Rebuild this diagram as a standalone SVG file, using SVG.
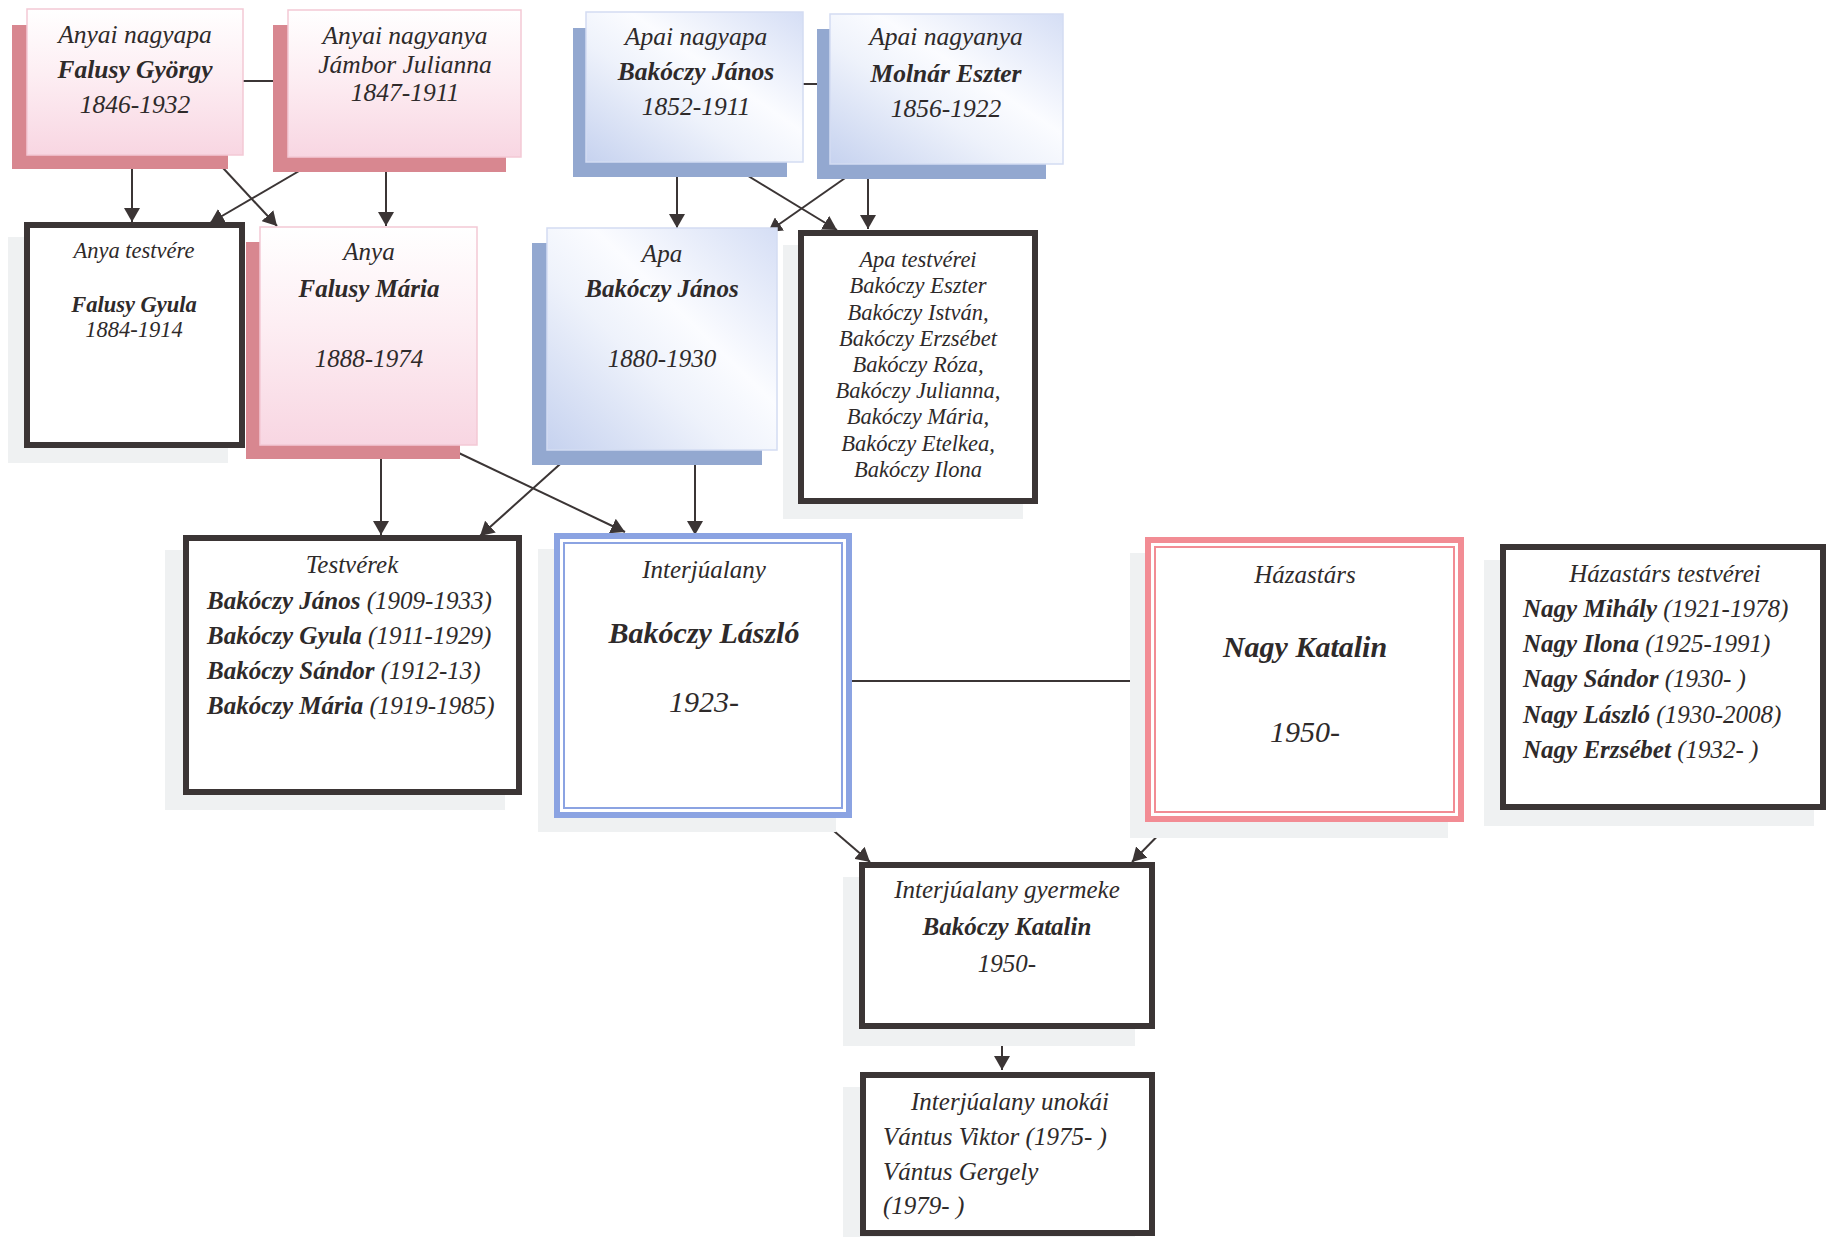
<svg xmlns="http://www.w3.org/2000/svg" width="1827" height="1237" viewBox="0 0 1827 1237">
<style>
text{font-family:"Liberation Serif","Times New Roman",serif;font-style:italic;fill:#2e2a2a}
.c{text-anchor:middle}
.b{font-weight:bold}
.f25{font-size:25.5px}
.f22{font-size:22.5px}
.f24{font-size:25px}
.f30{font-size:30px}
.pshadow{fill:#d88790}
.bshadow{fill:#93a8d0}
.gshadow{fill:#eff1f2}
.pbox{fill:url(#pg);stroke:#f3c9d5;stroke-width:1.5}
.bbox{fill:url(#bg);stroke:#d3dcf2;stroke-width:1.5}
.dbox{fill:#fff;stroke:#3b3535;stroke-width:6}
.con{stroke:#3b3535;stroke-width:2;fill:none}
.arr{marker-end:url(#ah)}
</style>
<defs>
<linearGradient id="pg" x1="0" y1="0" x2="0" y2="1">
<stop offset="0" stop-color="#ffffff"/>
<stop offset="0.45" stop-color="#fdeef3"/>
<stop offset="1" stop-color="#f8d6e2"/>
</linearGradient>
<linearGradient id="bg" x1="1" y1="0" x2="0" y2="1">
<stop offset="0" stop-color="#d5def5"/>
<stop offset="0.4" stop-color="#fbfcff"/>
<stop offset="0.6" stop-color="#eef2fb"/>
<stop offset="1" stop-color="#c6d2ef"/>
</linearGradient>
<marker id="ah" viewBox="0 0 14 16" markerWidth="14" markerHeight="16" refX="14" refY="8" orient="auto" markerUnits="userSpaceOnUse">
<path d="M0,0 L14,8 L0,16 Z" fill="#3b3535"/>
</marker>
</defs>
<rect width="1827" height="1237" fill="#ffffff"/>

<g id="connectors">
<line class="con" x1="243" y1="81" x2="288" y2="81"/>
<line class="con" x1="803" y1="84" x2="830" y2="84"/>
<line class="con arr" x1="132" y1="155" x2="132" y2="222"/>
<line class="con arr" x1="211" y1="155" x2="277" y2="226"/>
<line class="con arr" x1="323" y1="157" x2="210" y2="223"/>
<line class="con arr" x1="386" y1="157" x2="386" y2="226"/>
<line class="con arr" x1="677" y1="162" x2="677" y2="228"/>
<line class="con arr" x1="722" y1="160" x2="837" y2="230"/>
<line class="con arr" x1="868" y1="162" x2="768" y2="232"/>
<line class="con arr" x1="868" y1="162" x2="868" y2="229"/>
<line class="con arr" x1="381" y1="445" x2="381" y2="535"/>
<line class="con arr" x1="442" y1="445" x2="625" y2="532"/>
<line class="con arr" x1="578" y1="448" x2="480" y2="536"/>
<line class="con arr" x1="695" y1="450" x2="695" y2="535"/>
<line class="con" x1="852" y1="681" x2="1153" y2="681"/>
<line class="con arr" x1="813" y1="813" x2="870" y2="862"/>
<line class="con arr" x1="1178" y1="815" x2="1132" y2="862"/>
<line class="con arr" x1="1002" y1="1029" x2="1002" y2="1070"/>
</g>

<g id="anyai-nagyapa">
<rect class="pshadow" x="12" y="25" width="216" height="144"/>
<rect class="pbox" x="27" y="9" width="216" height="146"/>
<text class="c f25" x="135" y="43">Anyai nagyapa</text>
<text class="c f25 b" x="135" y="78">Falusy György</text>
<text class="c f25" x="135" y="113">1846-1932</text>
</g>

<g id="anyai-nagyanya">
<rect class="pshadow" x="273" y="25" width="233" height="147"/>
<rect class="pbox" x="288" y="10" width="233" height="147"/>
<text class="c f25" x="405" y="44">Anyai nagyanya</text>
<text class="c f25" x="405" y="73">Jámbor Julianna</text>
<text class="c f25" x="405" y="101">1847-1911</text>
</g>

<g id="apai-nagyapa">
<rect class="bshadow" x="573" y="28" width="214" height="149"/>
<rect class="bbox" x="586" y="12" width="217" height="150"/>
<text class="c f25" x="696" y="45">Apai nagyapa</text>
<text class="c f25 b" x="696" y="80">Bakóczy János</text>
<text class="c f25" x="696" y="115">1852-1911</text>
</g>

<g id="apai-nagyanya">
<rect class="bshadow" x="817" y="29" width="229" height="150"/>
<rect class="bbox" x="830" y="14" width="233" height="150"/>
<text class="c f25" x="946" y="45">Apai nagyanya</text>
<text class="c f25 b" x="946" y="82">Molnár Eszter</text>
<text class="c f25" x="946" y="117">1856-1922</text>
</g>

<g id="anya-testvere">
<rect class="gshadow" x="8" y="237" width="220" height="226"/>
<rect class="dbox" x="27" y="225" width="215" height="220"/>
<text class="c f22" x="134" y="258">Anya testvére</text>
<text class="c f22 b" x="134" y="312">Falusy Gyula</text>
<text class="c f22" x="134" y="337">1884-1914</text>
</g>

<g id="anya">
<rect class="pshadow" x="246" y="242" width="214" height="217"/>
<rect class="pbox" x="260" y="227" width="217" height="218"/>
<text class="c f24" x="369" y="260">Anya</text>
<text class="c f24 b" x="369" y="297">Falusy Mária</text>
<text class="c f24" x="369" y="367">1888-1974</text>
</g>

<g id="apa">
<rect class="bshadow" x="532" y="243" width="230" height="222"/>
<rect class="bbox" x="547" y="228" width="230" height="222"/>
<text class="c f24" x="662" y="262">Apa</text>
<text class="c f24 b" x="662" y="297">Bakóczy János</text>
<text class="c f24" x="662" y="367">1880-1930</text>
</g>

<g id="apa-testverei">
<rect class="gshadow" x="783" y="245" width="240" height="274"/>
<rect class="dbox" x="801" y="233" width="234" height="268"/>
<text class="c f22" x="918" y="267">Apa testvérei</text>
<text class="c f22" x="918" y="293">Bakóczy Eszter</text>
<text class="c f22" x="918" y="320">Bakóczy István,</text>
<text class="c f22" x="918" y="346">Bakóczy Erzsébet</text>
<text class="c f22" x="918" y="372">Bakóczy Róza,</text>
<text class="c f22" x="918" y="398">Bakóczy Julianna,</text>
<text class="c f22" x="918" y="424">Bakóczy Mária,</text>
<text class="c f22" x="918" y="451">Bakóczy Etelkea,</text>
<text class="c f22" x="918" y="477">Bakóczy Ilona</text>
</g>

<g id="testverek">
<rect class="gshadow" x="165" y="550" width="340" height="260"/>
<rect class="dbox" x="186" y="538" width="333" height="254"/>
<text class="c f24" x="352" y="573">Testvérek</text>
<text class="f24" x="207" y="609"><tspan class="b">Bakóczy János</tspan> (1909-1933)</text>
<text class="f24" x="207" y="644"><tspan class="b">Bakóczy Gyula</tspan> (1911-1929)</text>
<text class="f24" x="207" y="679"><tspan class="b">Bakóczy Sándor</tspan>  (1912-13)</text>
<text class="f24" x="207" y="714"><tspan class="b">Bakóczy Mária</tspan> (1919-1985)</text>
</g>

<g id="interjualany">
<rect class="gshadow" x="538" y="549" width="298" height="283"/>
<rect x="557" y="536" width="292" height="279" fill="#fff" stroke="#8ba3e2" stroke-width="6"/>
<rect x="564" y="543" width="278" height="265" fill="none" stroke="#8ba3e2" stroke-width="2"/>
<text class="c f24" x="704" y="578">Interjúalany</text>
<text class="c f30 b" x="704" y="643">Bakóczy László</text>
<text class="c f30" x="704" y="712">1923-</text>
</g>

<g id="hazastars">
<rect class="gshadow" x="1130" y="553" width="318" height="285"/>
<rect x="1148" y="540" width="313" height="279" fill="#fff" stroke="#f28c94" stroke-width="6"/>
<rect x="1155" y="547" width="299" height="265" fill="none" stroke="#f28c94" stroke-width="2"/>
<text class="c f24" x="1305" y="583">Házastárs</text>
<text class="c f30 b" x="1305" y="657">Nagy Katalin</text>
<text class="c f30" x="1305" y="742">1950-</text>
</g>

<g id="hazastars-testverei">
<rect class="gshadow" x="1484" y="560" width="330" height="266"/>
<rect class="dbox" x="1503" y="547" width="320" height="260"/>
<text class="c f24" x="1665" y="582">Házastárs testvérei</text>
<text class="f24" x="1523" y="617"><tspan class="b">Nagy Mihály</tspan> (1921-1978)</text>
<text class="f24" x="1523" y="652"><tspan class="b">Nagy Ilona</tspan> (1925-1991)</text>
<text class="f24" x="1523" y="687"><tspan class="b">Nagy Sándor</tspan> (1930- )</text>
<text class="f24" x="1523" y="723"><tspan class="b">Nagy László</tspan> (1930-2008)</text>
<text class="f24" x="1523" y="758"><tspan class="b">Nagy Erzsébet</tspan> (1932- )</text>
</g>

<g id="gyermeke">
<rect class="gshadow" x="843" y="877" width="292" height="169"/>
<rect class="dbox" x="862" y="865" width="290" height="161"/>
<text class="c f24" x="1007" y="898">Interjúalany gyermeke</text>
<text class="c f24 b" x="1007" y="935">Bakóczy Katalin</text>
<text class="c f24" x="1007" y="972">1950-</text>
</g>

<g id="unokai">
<rect class="gshadow" x="843" y="1087" width="292" height="150"/>
<rect class="dbox" x="863" y="1075" width="289" height="158"/>
<text class="c f24" x="1010" y="1110">Interjúalany unokái</text>
<text class="f24" x="883" y="1145">Vántus Viktor (1975- )</text>
<text class="f24" x="883" y="1180">Vántus Gergely</text>
<text class="f24" x="883" y="1214">(1979- )</text>
</g>
</svg>
